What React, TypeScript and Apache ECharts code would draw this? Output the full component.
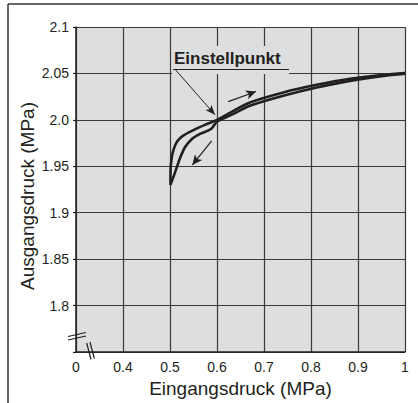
import React, { useEffect, useRef } from "react";
import * as echarts from "echarts";

// Data (Eingangsdruck MPa, Ausgangsdruck MPa)
const outerTip: [number, number][] = [
  [0.501, 1.93], [0.501, 1.943], [0.503, 1.957], [0.5075, 1.968], [0.5155, 1.977],
  [0.528, 1.983], [0.55, 1.989], [0.5745, 1.9946], [0.6, 2.0],
];
const upperBranch: [number, number][] = [
  [0.635, 2.0097], [0.67, 2.0187], [0.741, 2.0295], [0.812, 2.0377],
  [0.883, 2.0442], [0.954, 2.0485], [1.0, 2.0505],
];
const innerTip: [number, number][] = [
  [0.501, 1.93], [0.5106, 1.9432], [0.5213, 1.9587], [0.5319, 1.9705], [0.5461, 1.9792],
  [0.5638, 1.9849], [0.5794, 1.9881], [0.5887, 1.9907], [0.5943, 1.9946], [0.6, 1.998],
];
const lowerBranch: [number, number][] = [
  [0.635, 2.0065], [0.67, 2.0151], [0.741, 2.0259], [0.812, 2.0348],
  [0.883, 2.042], [0.954, 2.0474], [1.0, 2.0498],
];
// annotation arrows (data coordinates)
const arrowUp: [number, number][] = [[0.624, 2.0197], [0.683, 2.0305]];
const arrowDown: [number, number][] = [[0.5887, 1.9774], [0.5475, 1.9515]];
const pointer: [number, number][] = [[0.5106, 2.0546], [0.5957, 2.0054]];

const X_MIN = 0.3, X_MAX = 1.0, X_STEP = 0.1;
const Y_MIN = 1.75, Y_MAX = 2.1, Y_STEP = 0.05;
const xTitle = "Eingangsdruck (MPa)";
const yTitle = "Ausgangsdruck (MPa)";
const noteText = "Einstellpunkt";

const FONT = "'Liberation Sans', Arial, Helvetica, sans-serif";
const INK = "#231f20";
const BG = "#dddedf";

export default function App() {
  const ref = useRef<HTMLDivElement>(null);
  useEffect(() => {
    if (!ref.current) return;
    const chart = echarts.init(ref.current, undefined, { renderer: "svg" });
    const arrowLine = (pts: [number, number][], w: number, size: number[]) => ({
      silent: true,
      symbol: ["none", "arrow"],
      symbolSize: size,
      label: { show: false },
      lineStyle: { color: INK, width: w, type: "solid" },
      data: [[{ coord: pts[0] }, { coord: pts[1] }]],
    });
    chart.setOption({
      animation: false,
      textStyle: { fontFamily: FONT },
      grid: {
        left: 76, top: 27, right: 13, bottom: 51,
        show: true, backgroundColor: BG, borderWidth: 0,
      },
      xAxis: {
        type: "value", min: X_MIN, max: X_MAX, interval: X_STEP,
        name: xTitle, nameLocation: "middle", nameGap: 27,
        nameTextStyle: { fontSize: 19, color: INK, fontFamily: FONT },
        axisLine: { show: true, lineStyle: { color: INK, width: 1.5 } },
        axisTick: { show: false },
        axisLabel: {
          fontSize: 14, color: INK, margin: 8, fontFamily: FONT,
          formatter: (v: number) => {
            const r = Math.round(v * 10);
            if (r === 3) return "0";
            if (r === 10) return "1";
            return (r / 10).toFixed(1);
          },
        },
        splitLine: { show: true, lineStyle: { color: "#3a3a3a", width: 1.2 } },
      },
      yAxis: {
        type: "value", min: Y_MIN, max: Y_MAX, interval: Y_STEP,
        axisLine: { show: true, lineStyle: { color: INK, width: 1.5 } },
        axisTick: { show: true, length: 3, lineStyle: { color: INK, width: 1.2 } },
        axisLabel: {
          fontSize: 14, color: INK, margin: 7, fontFamily: FONT,
          formatter: (v: number) => {
            const r = Math.round(v * 100);
            if (r === 175) return "";
            return r % 10 === 0 ? (r / 100).toFixed(1) : (r / 100).toFixed(2);
          },
        },
        splitLine: { show: true, lineStyle: { color: "#3a3a3a", width: 1.2 } },
      },
      series: [
        {
          type: "line", name: "A", data: [...outerTip, ...upperBranch],
          smooth: 0.3, showSymbol: false, z: 3,
          lineStyle: { color: INK, width: 2.6 },
          markLine: arrowLine(arrowUp, 1.2, [7, 10]),
        },
        {
          type: "line", name: "B", data: [...innerTip, ...lowerBranch],
          smooth: 0.3, showSymbol: false, z: 3,
          lineStyle: { color: INK, width: 2.6 },
          markLine: arrowLine(arrowDown, 1.2, [7, 10]),
        },
        {
          type: "line", name: "pointer", data: [], z: 4,
          markLine: arrowLine(pointer, 1, [6, 10]),
        },
      ],
      graphic: [
        { type: "line", z: 10, shape: { x1: 8, y1: 4, x2: 418, y2: 4 }, style: { stroke: "#333", lineWidth: 1.5 } },
        { type: "line", z: 10, shape: { x1: 8, y1: 4, x2: 8, y2: 403 }, style: { stroke: "#333", lineWidth: 1.5 } },
        { type: "rect", z: 1, shape: { x: 172, y: 46, width: 117, height: 28 }, style: { fill: BG } },
        {
          type: "text", z: 10, x: 174, y: 58,
          style: { text: noteText, font: `bold 17px ${FONT}`, fill: INK, textVerticalAlign: "middle" },
        },
        { type: "line", z: 10, shape: { x1: 173, y1: 69.5, x2: 289, y2: 69.5 }, style: { stroke: INK, lineWidth: 1.2 } },
        // axis break marks
        { type: "line", z: 10, shape: { x1: 68, y1: 336.5, x2: 86, y2: 332.5 }, style: { stroke: INK, lineWidth: 1.2 } },
        { type: "line", z: 10, shape: { x1: 68, y1: 340, x2: 86, y2: 336 }, style: { stroke: INK, lineWidth: 1.2 } },
        { type: "line", z: 10, shape: { x1: 86.7, y1: 343, x2: 91, y2: 359.5 }, style: { stroke: INK, lineWidth: 1.2 } },
        { type: "line", z: 10, shape: { x1: 90, y1: 342, x2: 94.3, y2: 358.5 }, style: { stroke: INK, lineWidth: 1.2 } },
        {
          type: "text", z: 10, x: 27, y: 196, rotation: Math.PI / 2,
          style: { text: yTitle, font: `19px ${FONT}`, fill: INK, textAlign: "center", textVerticalAlign: "middle" },
        },
      ],
    });
    return () => chart.dispose();
  }, []);
  return (
    <div
      ref={ref}
      style={{ position: "fixed", left: 0, top: 0, width: 418, height: 403, background: "#fff" }}
    />
  );
}
